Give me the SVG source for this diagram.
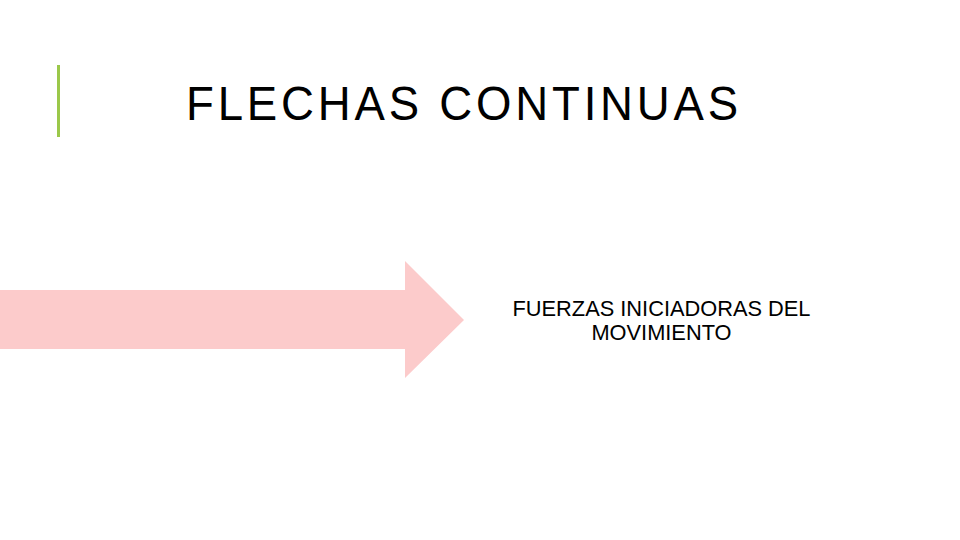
<svg xmlns="http://www.w3.org/2000/svg" width="960" height="540" viewBox="0 0 960 540">
<style>
.t{font-family:"Liberation Sans",Arial,sans-serif;fill:#000}
</style>
<rect width="960" height="540" fill="#fff"/>
<g id="accent"><rect x="57" y="65" width="3" height="72" fill="#9bc84a"/></g>
<g id="title"><text class="t" transform="translate(186,120) scale(0.95,1)" x="0" y="0" font-size="48" letter-spacing="4" fill="#111">FLECHAS CONTINUAS</text></g>
<g id="arrow"><polygon points="0,290 405,290 405,261 464,320 405,378 405,349 0,349" fill="#fccbcb"/></g>
<g id="label"><text class="t" font-size="21.8" text-anchor="middle"><tspan x="661.5" y="316">FUERZAS INICIADORAS DEL</tspan><tspan x="661.5" y="340">MOVIMIENTO</tspan></text></g>
</svg>
